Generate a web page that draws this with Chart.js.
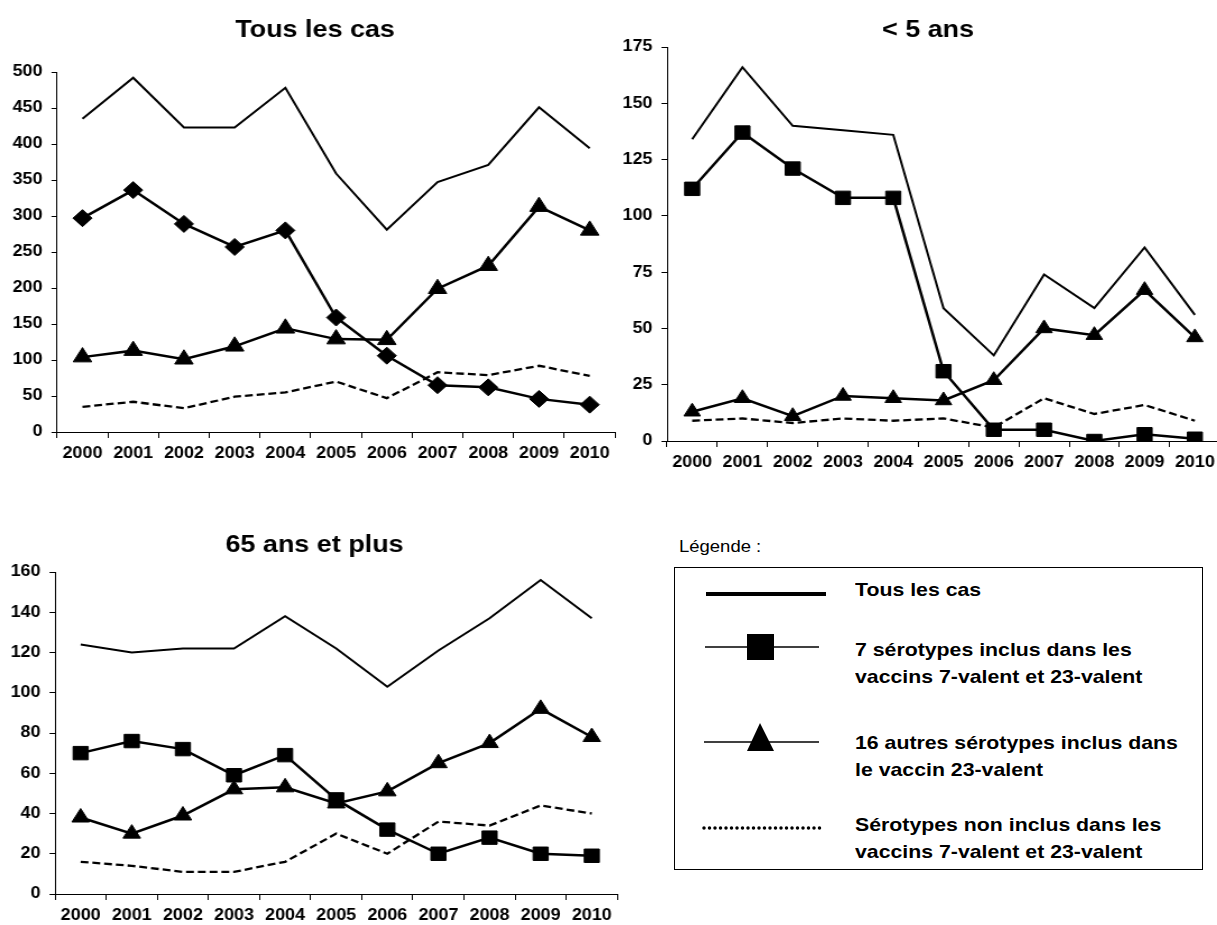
<!DOCTYPE html>
<html>
<head>
<meta charset="utf-8">
<script src="https://cdn.jsdelivr.net/npm/chart.js@4.4.0/dist/chart.umd.min.js"></script>
<style>
body { margin:0; width:1217px; height:925px; overflow:hidden; background:#fff; position:relative; font-family:"Liberation Sans", Arial, sans-serif; }
/* the original figure is slightly stretched horizontally */
.wrap { position:absolute; transform:scaleX(1.12); transform-origin:0 0; }
.stretch { transform:scaleX(1.12); transform-origin:0 0; }
#legendTitle { position:absolute; left:679px; top:537px; font-size:16.5px; color:#000; }
#legendBox { position:absolute; left:674px; top:567px; width:527px; height:301px; border:1.5px solid #000; }
.lg { position:absolute; left:855px; font-weight:bold; font-size:19px; line-height:27px; color:#000; white-space:nowrap; }
#legendSym { position:absolute; left:674px; top:567px; }
</style>
</head>
<body>
<div class="wrap" style="left:0px;top:0px;width:561.6px;height:472px"><canvas id="chartAll"></canvas></div>
<div class="wrap" style="left:620px;top:0px;width:550px;height:481px"><canvas id="chartU5"></canvas></div>
<div class="wrap" style="left:0px;top:520px;width:560.7px;height:414px"><canvas id="chart65"></canvas></div>

<div id="legendTitle" class="stretch">Légende :</div>
<div id="legendBox"></div>
<svg id="legendSym" width="180" height="300">
  <line x1="32" y1="27" x2="152" y2="27" stroke="#000" stroke-width="4"/>
  <line x1="31" y1="80" x2="145" y2="80" stroke="#000" stroke-width="1.5"/>
  <rect x="73" y="67" width="27" height="26" fill="#000"/>
  <line x1="30" y1="175" x2="145" y2="175" stroke="#000" stroke-width="1.5"/>
  <polygon points="86,156 73,184 100,184" fill="#000"/>
  <line x1="30" y1="261" x2="146" y2="261" stroke="#000" stroke-width="3.5" stroke-dasharray="0 5.5" stroke-linecap="round"/>
</svg>
<div class="lg stretch" style="top:576px">Tous les cas</div>
<div class="lg stretch" style="top:636px">7 sérotypes inclus dans les<br>vaccins 7-valent et 23-valent</div>
<div class="lg stretch" style="top:729px">16 autres sérotypes inclus dans<br>le vaccin 23-valent</div>
<div class="lg stretch" style="top:811px">Sérotypes non inclus dans les<br>vaccins 7-valent et 23-valent</div>

<script>
var years = ["2000", "2001", "2002", "2003", "2004", "2005", "2006", "2007", "2008", "2009", "2010"]

// Tous les cas
var allTotal = [435, 492, 423, 423, 478, 359, 281, 347, 371, 451, 394]
var allPcv7 = [297, 336, 289, 257, 280, 159, 106, 65, 62, 46, 38]
var allPpv16 = [104, 113, 101, 119, 144, 129, 128, 199, 231, 313, 280]
var allOther = [35, 42, 33, 49, 55, 70, 47, 83, 79, 92, 78]

// < 5 ans
var u5Total = [134, 166, 140, 138, 136, 59, 38, 74, 59, 86, 56]
var u5Pcv7 = [112, 137, 121, 108, 108, 31, 5, 5, 0, 3, 1]
var u5Ppv16 = [13, 19, 11, 20, 19, 18, 27, 50, 47, 67, 46]
var u5Other = [9, 10, 8, 10, 9, 10, 6, 19, 12, 16, 9]

// 65 ans et plus
var o65Total = [124, 120, 122, 122, 138, 122, 103, 121, 137, 156, 137]
var o65Pcv7 = [70, 76, 72, 59, 69, 47, 32, 20, 28, 20, 19]
var o65Ppv16 = [38, 30, 39, 52, 53, 45, 51, 65, 75, 92, 78]
var o65Other = [16, 14, 11, 11, 16, 30, 20, 36, 34, 44, 40]

var fontFamily = "'Liberation Sans', Arial, sans-serif"
var tickFont = { family: fontFamily, size: 16, weight: "bold" }

function makeChart(id, title, t, pcv7, ppv16, other, opts){
    var ctx = document.getElementById(id).getContext("2d")
    return new Chart(ctx, {
        type: "line",
        data: {
            labels: years,
            datasets: [
                { label: "Tous les cas", data: t, borderColor: "#000", borderWidth: 2, pointRadius: 0, fill: false },
                { label: "7 sérotypes", data: pcv7, borderColor: "#000", backgroundColor: "#000", borderWidth: 2.5,
                  pointStyle: opts.pcvStyle, pointRadius: opts.pcvRadius, pointBorderWidth: 1, fill: false },
                { label: "16 autres sérotypes", data: ppv16, borderColor: "#000", backgroundColor: "#000", borderWidth: 2.5,
                  pointStyle: "triangle", pointRadius: opts.triRadius, pointBorderWidth: 1, fill: false },
                { label: "Sérotypes non inclus", data: other, borderColor: "#000", borderWidth: 2.3, borderDash: [7, 3.5],
                  pointRadius: 0, fill: false }
            ]
        },
        options: {
            responsive: true,
            maintainAspectRatio: false,
            animation: false,
            events: [],
            layout: { padding: 0 },
            plugins: {
                legend: { display: false },
                tooltip: { enabled: false },
                title: {
                    display: true, text: title, color: "#000",
                    font: { family: fontFamily, size: 24, weight: "bold", lineHeight: 1.2 },
                    padding: { top: opts.titleTop, bottom: opts.titleBottom }
                }
            },
            scales: {
                x: {
                    offset: true,
                    grid: { offset: true, drawOnChartArea: false, drawTicks: true, tickLength: 6, color: "#000" },
                    border: { display: true, color: "#000", width: 1 },
                    ticks: { color: "#000", font: tickFont, padding: 6, maxRotation: 0, autoSkip: false },
                    afterFit: function(s){ s.height = 40 }
                },
                y: {
                    min: 0, max: opts.max,
                    grid: { drawOnChartArea: false, drawTicks: true, tickLength: 5, color: "#000" },
                    border: { display: true, color: "#000", width: 1 },
                    ticks: { color: "#000", font: tickFont, padding: 8, stepSize: opts.step },
                    afterFit: function(s){ s.width = opts.yWidth }
                },
                // empty spacer on the right so the title stays centred like the original
                spacer: {
                    type: "linear", position: "right", display: true,
                    grid: { display: false, drawTicks: false },
                    border: { display: false },
                    ticks: { display: false },
                    afterFit: function(s){ s.width = opts.rightWidth }
                }
            }
        }
    })
}

makeChart("chartAll", "Tous les cas", allTotal, allPcv7, allPpv16, allOther,
    { pcvStyle: "rectRot", pcvRadius: 8.5, triRadius: 9.5, max: 500, step: 50, yWidth: 50.9, rightWidth: 13.4, titleTop: 15.6, titleBottom: 27.6 })
makeChart("chartU5", "< 5 ans", u5Total, u5Pcv7, u5Ppv16, u5Other,
    { pcvStyle: "rect", pcvRadius: 9.5, triRadius: 8.5, max: 175, step: 25, yWidth: 42, rightWidth: 14.3, titleTop: 15.6, titleBottom: 2.6 })
makeChart("chart65", "65 ans et plus", o65Total, o65Pcv7, o65Ppv16, o65Other,
    { pcvStyle: "rect", pcvRadius: 9.5, triRadius: 9, max: 160, step: 20, yWidth: 49.1, rightWidth: 7.1, titleTop: 10.6, titleBottom: 12.6 })
</script>
</body>
</html>
